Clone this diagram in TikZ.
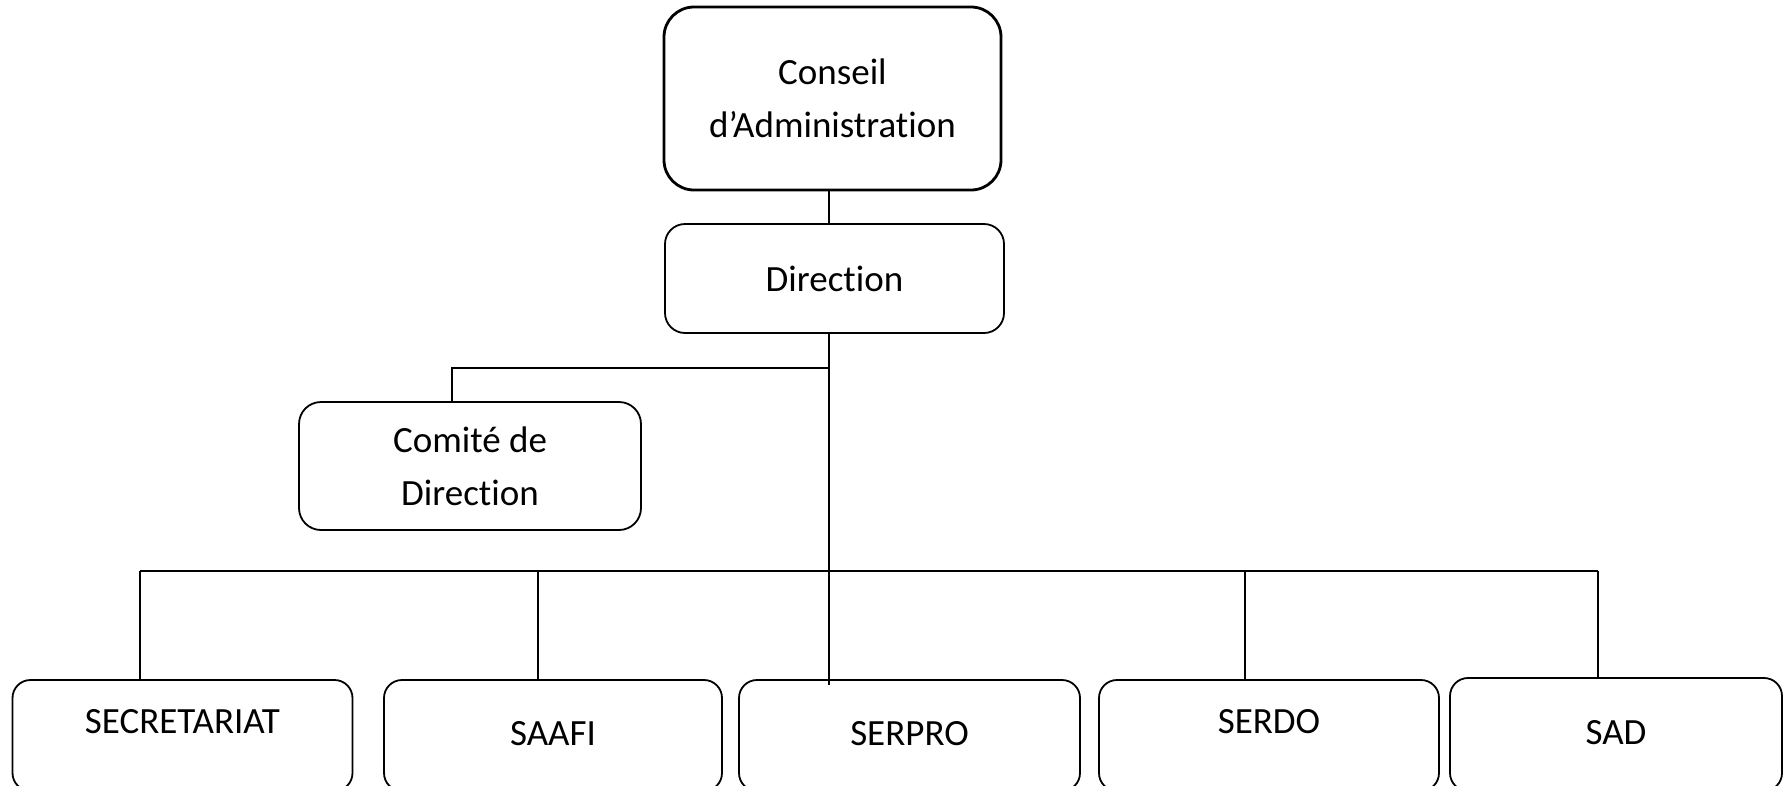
\documentclass[tikz,border=0pt]{standalone}
\usepackage{fontspec}
\setmainfont{Carlito}[Ligatures={NoCommon,NoRequired,NoContextual}]
\begin{document}
\begin{tikzpicture}[x={(1pt,0)},y={(0,-1pt)},
  every node/.style={font=\fontsize{37}{53}\selectfont, inner sep=0pt, outer sep=0pt},
  box/.style={draw=black, line width=1.8pt, rounded corners=20pt, align=center},
  topbox/.style={box, line width=2.8pt, rounded corners=30pt},
  unit/.style={box, rounded corners=18pt, minimum height=111pt, text depth=5pt},
  link/.style={draw=black, line width=1.6pt}]
\useasboundingbox (0,0) rectangle (1783,785);
\fill[white] (0,0) rectangle (1783,785);

\node[topbox, minimum width=337pt, minimum height=183pt] (conseil) at (832.5,98.5) {Conseil\\d’Administration};
\node[box, minimum width=339pt, minimum height=109pt] (direction) at (834.5,278.5) {Direction};
\node[box, rounded corners=22pt, minimum width=342pt, minimum height=128pt] (comite) at (470,466) {Comité de\\Direction};

\node[unit, minimum width=340pt, text depth=29pt] (sec) at (182.5,735.5) {SECRETARIAT};
\node[unit, minimum width=338pt] (saafi) at (553,735.5) {SAAFI};
\node[unit, minimum width=341pt] (serpro) at (909.5,735.5) {SERPRO};
\node[unit, minimum width=340pt, text depth=29pt] (serdo) at (1269,735.5) {SERDO};
\node[unit, minimum width=332pt, minimum height=113pt] (sad) at (1616,734.5) {SAD};

\coordinate (cj) at (829,368);
\coordinate (cc) at (452,368);
\coordinate (spend) at (829,685);
\coordinate (busL) at (140,571);
\coordinate (busR) at (1598,571);
\coordinate (dsaafi) at (538,571);
\coordinate (dserdo) at (1245,571);

\draw[link] (conseil.south -| cj) -- (direction.north -| cj);
\draw[link] (direction.south -| cj) -- (spend);
\draw[link] (cj) -- (cc) -- (cc |- comite.north);
\draw[link] (busL) -- (busR);
\draw[link] (busL) -- (busL |- sec.north);
\draw[link] (dsaafi) -- (dsaafi |- saafi.north);
\draw[link] (dserdo) -- (dserdo |- serdo.north);
\draw[link] (busR) -- (busR |- sad.north);
\end{tikzpicture}
\end{document}
